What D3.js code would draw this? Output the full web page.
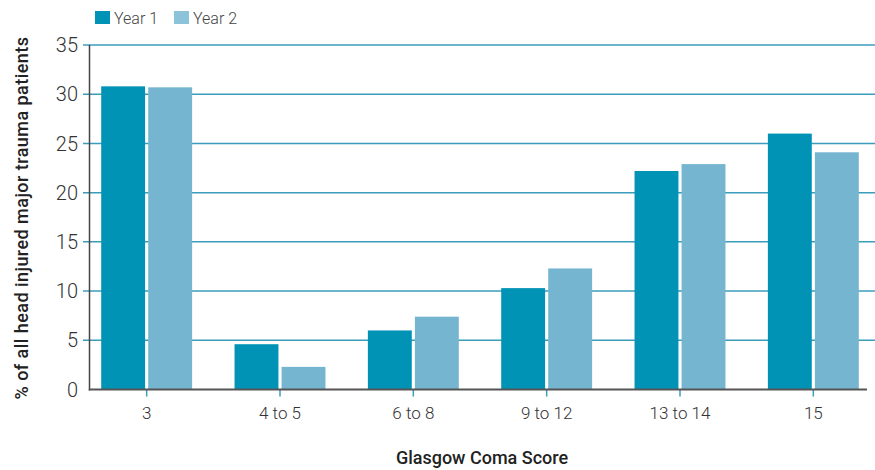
<!DOCTYPE html>
<html>
<head>
<meta charset="utf-8">
<script src="https://cdn.jsdelivr.net/npm/d3@7"></script>
<style>
  html, body { margin: 0; padding: 0; background: #fff; }
  svg { display: block; }
  text { font-family: Roboto, "Liberation Sans", sans-serif; }
</style>
</head>
<body>
<svg id="chart" width="875" height="470"></svg>
<script>
// Glasgow Coma Score bands and share of head-injured major trauma patients
const categories = ["3", "4 to 5", "6 to 8", "9 to 12", "13 to 14", "15"];
const seriesNames = ["Year 1", "Year 2"];
const year1 = [30.8, 4.6, 6.0, 10.3, 22.2, 26.0];
const year2 = [30.7, 2.3, 7.4, 12.3, 22.9, 24.1];
const yTicks = [0, 5, 10, 15, 20, 25, 30, 35];
const colors = ["#0093b6", "#76b5cf"];

const svg = d3.select("#chart");
const width = 875, height = 470;
const axisX = 89.5;          // vertical axis position
const plotTop = 45, plotBottom = 389.5;

const y = d3.scaleLinear().domain([0, 35]).range([plotBottom, plotTop]);
const x0 = d3.scaleBand().domain(categories).range([80, 880]).paddingInner(0).paddingOuter(0);
const x1 = d3.scaleBand().domain(seriesNames)
  .range([21.2, x0.bandwidth() - 21.2]).paddingInner(0.066).paddingOuter(0);

// horizontal gridlines (extend a little left of the axis as ticks)
svg.append("g").selectAll("line")
  .data(yTicks.filter(d => d > 0))
  .join("line")
  .attr("x1", 83).attr("x2", width)
  .attr("y1", d => y(d)).attr("y2", d => y(d))
  .attr("stroke", "#3b9cbc").attr("stroke-width", 1.5);

// y tick labels
svg.append("g").selectAll("text")
  .data(yTicks)
  .join("text")
  .attr("x", 78).attr("y", d => y(d))
  .attr("dy", "0.36em")
  .attr("text-anchor", "end")
  .attr("font-size", 20).attr("font-weight", 300)
  .attr("fill", "#333")
  .text(d => d);

// bars
const rows = categories.map((c, i) => ({ cat: c, vals: [year1[i], year2[i]] }));
const groups = svg.append("g").selectAll("g")
  .data(rows).join("g")
  .attr("transform", d => `translate(${x0(d.cat)},0)`);
groups.selectAll("rect")
  .data(d => d.vals.map((v, j) => ({ name: seriesNames[j], v, j })))
  .join("rect")
  .attr("x", d => x1(d.name))
  .attr("width", x1.bandwidth())
  .attr("y", d => y(d.v))
  .attr("height", d => y(0) - y(d.v))
  .attr("fill", d => colors[d.j]);

// x-axis category ticks
svg.append("g").selectAll("line")
  .data(categories).join("line")
  .attr("x1", d => x0(d) + x0.bandwidth() / 2)
  .attr("x2", d => x0(d) + x0.bandwidth() / 2)
  .attr("y1", plotBottom).attr("y2", plotBottom + 7)
  .attr("stroke", "#3b9cbc").attr("stroke-width", 1.5);

// x tick labels
svg.append("g").selectAll("text")
  .data(categories).join("text")
  .attr("x", d => x0(d) + x0.bandwidth() / 2)
  .attr("y", 419)
  .attr("text-anchor", "middle")
  .attr("font-size", 17).attr("font-weight", 300)
  .attr("fill", "#333")
  .text(d => d);

// axis lines
svg.append("line")
  .attr("x1", axisX).attr("x2", axisX)
  .attr("y1", plotTop).attr("y2", plotBottom + 1)
  .attr("stroke", "#444").attr("stroke-width", 1.5);
svg.append("line")
  .attr("x1", axisX - 0.75).attr("x2", 867)
  .attr("y1", plotBottom).attr("y2", plotBottom)
  .attr("stroke", "#555").attr("stroke-width", 2);

// axis titles
svg.append("text")
  .attr("x", 482).attr("y", 464)
  .attr("text-anchor", "middle")
  .attr("font-size", 18).attr("font-weight", 500)
  .attr("fill", "#222")
  .text("Glasgow Coma Score");
svg.append("text")
  .attr("transform", "translate(28,218) rotate(-90)")
  .attr("text-anchor", "middle")
  .attr("font-size", 18).attr("font-weight", 500)
  .attr("letter-spacing", "0.45px")
  .attr("fill", "#222")
  .text("% of all head injured major trauma patients");

// legend
const legend = svg.append("g").selectAll("g")
  .data(seriesNames).join("g")
  .attr("transform", (d, i) => `translate(${95 + i * 79},11)`);
legend.append("rect")
  .attr("width", 15).attr("height", 13)
  .attr("fill", (d, i) => i === 0 ? colors[0] : "#8cc3d8");
legend.append("text")
  .attr("x", 19).attr("y", 7)
  .attr("dy", "0.36em")
  .attr("font-size", 16).attr("font-weight", 300)
  .attr("fill", "#444")
  .text(d => d);
</script>
</body>
</html>
